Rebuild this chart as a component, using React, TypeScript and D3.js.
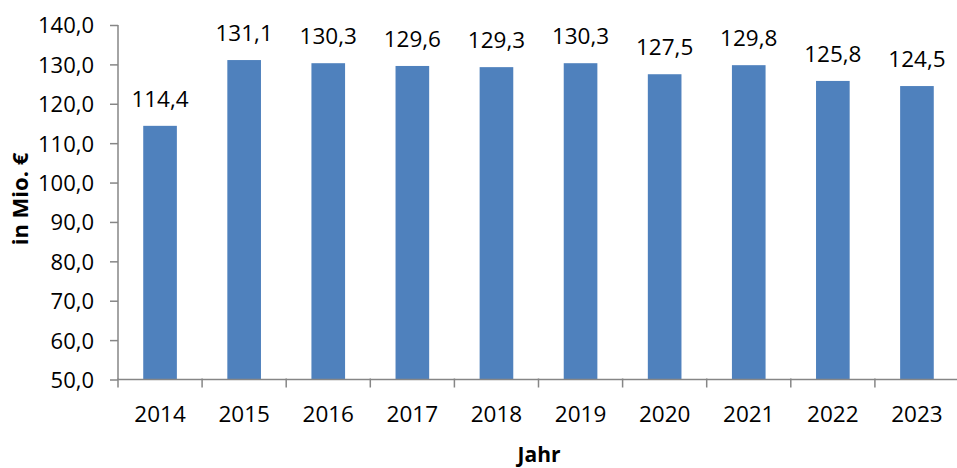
import React, { useEffect, useRef } from "react";
import * as d3 from "d3";

const years = ["2014", "2015", "2016", "2017", "2018", "2019", "2020", "2021", "2022", "2023"];
const values = [114.4, 131.1, 130.3, 129.6, 129.3, 130.3, 127.5, 129.8, 125.8, 124.5];
const yTicks = [50, 60, 70, 80, 90, 100, 110, 120, 130, 140];

const width = 957;
const height = 468;
const margin = { top: 25, right: -2, bottom: 88.5, left: 118 };
const font = "'Open Sans', Lato, sans-serif";
const fmt = (v: number) => v.toFixed(1).replace(".", ",");

export default function App() {
  const svgRef = useRef<SVGSVGElement>(null);

  useEffect(() => {
    const root = d3.select(svgRef.current);
    root.selectAll("*").remove();

    const plotW = width - margin.left - margin.right;
    const plotH = height - margin.top - margin.bottom;

    const g = root.append("g").attr("transform", `translate(${margin.left},${margin.top})`);

    const y = d3.scaleLinear().domain([50, 140]).range([plotH, 0]);
    const x = d3.scaleBand().domain(years).range([0, plotW]).paddingInner(0.6).paddingOuter(0.3);
    const xTicks = d3.scaleLinear().domain([0, years.length]).range([0, plotW]);

    // bars
    g.selectAll("rect")
      .data(values)
      .enter()
      .append("rect")
      .attr("x", (d, i) => x(years[i])!)
      .attr("y", (d) => y(d))
      .attr("width", x.bandwidth())
      .attr("height", (d) => plotH - y(d))
      .attr("fill", "#4F81BD");

    // value labels
    g.selectAll("text.val")
      .data(values)
      .enter()
      .append("text")
      .attr("class", "val")
      .attr("x", (d, i) => x(years[i])! + x.bandwidth() / 2)
      .attr("y", (d) => y(d) - 19)
      .attr("text-anchor", "middle")
      .style("font-family", font)
      .style("font-size", "22.5px")
      .attr("fill", "#000")
      .text((d) => fmt(d));

    // Y axis
    const yAxis = g
      .append("g")
      .call(d3.axisLeft(y).tickValues(yTicks).tickSize(8).tickPadding(16).tickFormat((d) => fmt(d as number)));
    yAxis.select(".domain").attr("stroke", "#868686").attr("stroke-width", 1.5).attr("d", `M0,0V${plotH}`);
    yAxis.selectAll(".tick line").attr("stroke", "#868686").attr("stroke-width", 1.5);
    yAxis.selectAll("text").style("font-family", font).style("font-size", "22px").attr("fill", "#000").attr("dy", "0.36em");

    // X axis
    const xAxisG = g.append("g").attr("transform", `translate(0,${plotH})`);
    xAxisG
      .append("line")
      .attr("x1", 0)
      .attr("x2", plotW)
      .attr("stroke", "#868686")
      .attr("stroke-width", 1.5);
    xAxisG
      .selectAll("line.tick")
      .data(d3.range(years.length + 1))
      .enter()
      .append("line")
      .attr("class", "tick")
      .attr("x1", (d) => xTicks(d))
      .attr("x2", (d) => xTicks(d))
      .attr("y1", -1)
      .attr("y2", 8)
      .attr("stroke", "#868686")
      .attr("stroke-width", 1.5);
    xAxisG
      .selectAll("text")
      .data(years)
      .enter()
      .append("text")
      .attr("x", (d) => x(d)! + x.bandwidth() / 2)
      .attr("y", 42)
      .attr("text-anchor", "middle")
      .style("font-family", font)
      .style("font-size", "22.5px")
      .attr("fill", "#000")
      .text((d) => d);

    // axis titles
    root
      .append("text")
      .attr("transform", `translate(28,199) rotate(-90)`)
      .attr("text-anchor", "middle")
      .style("font-family", font)
      .style("font-size", "22px")
      .style("font-weight", "bold")
      .attr("fill", "#000")
      .text("in Mio. €");

    root
      .append("text")
      .attr("x", 539)
      .attr("y", 462)
      .attr("text-anchor", "middle")
      .style("font-family", font)
      .style("font-size", "21px")
      .style("font-weight", "bold")
      .attr("fill", "#000")
      .text("Jahr");
  }, []);

  return (
    <svg
      ref={svgRef}
      width={width}
      height={height}
      style={{ position: "absolute", left: 0, top: 0, background: "#fff" }}
    />
  );
}
